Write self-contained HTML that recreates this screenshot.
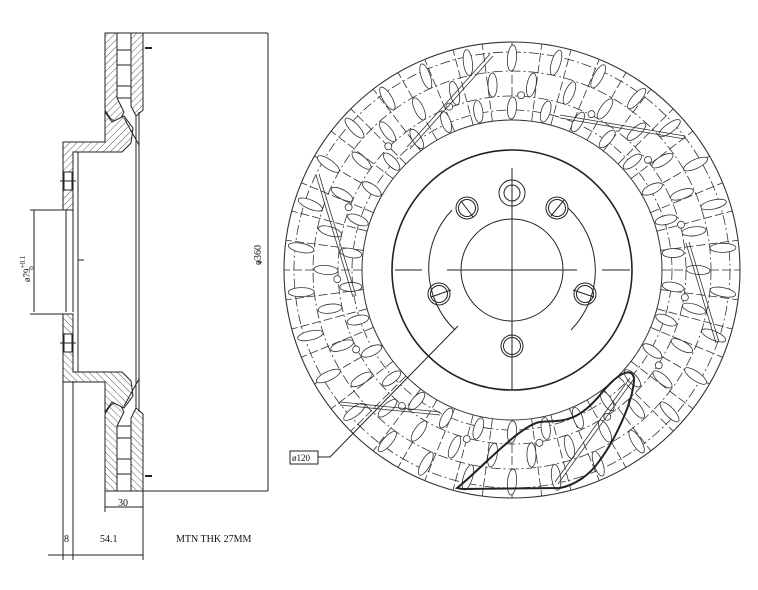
<!DOCTYPE html>
<html><head><meta charset="utf-8"><style>
html,body{margin:0;padding:0;background:#fff;width:758px;height:590px;overflow:hidden}
svg{display:block}
text{font-family:"Liberation Serif",serif;fill:#111}
</style></head><body>
<svg id="s" width="758" height="590" viewBox="0 0 758 590" xmlns="http://www.w3.org/2000/svg">
<defs>
<pattern id="h" width="5" height="5" patternUnits="userSpaceOnUse" patternTransform="rotate(45)">
<rect width="5" height="5" fill="#fff"/><line x1="0" y1="0" x2="0" y2="5" stroke="#333" stroke-width="0.8"/>
</pattern>
</defs>
<g stroke="#222" stroke-width="1" fill="none">
<g id="half">
<polygon fill="url(#h)" points="105,33 117,33 117,98 124,112 118,124 110,118 105,110"/>
<polygon fill="url(#h)" points="131,33 143,33 143,110 136,116 131,106"/>
<polygon fill="url(#h)" points="105,112 112,122 124,116 133,128 131,143 122,152 73,152 73,210 63,210 63,142 105,142"/>
<rect x="117" y="33" width="14" height="65" fill="#fff"/>
<line x1="117" y1="50" x2="131" y2="50"/><line x1="117" y1="65" x2="131" y2="65"/>
<line x1="117" y1="86" x2="131" y2="86"/>
<rect x="64" y="172" width="8" height="18" fill="#fff"/>
<line x1="60" y1="181" x2="76" y2="181"/>
<line x1="143" y1="33" x2="268" y2="33"/>
<line x1="145" y1="48" x2="152" y2="48" stroke-width="2"/>
<line x1="124" y1="118" x2="139" y2="145"/>
<line x1="30" y1="210" x2="63" y2="210"/>
</g>
<use href="#half" transform="translate(0,524) scale(1,-1)"/>
<line x1="78" y1="152" x2="78" y2="372"/>
<line x1="73" y1="210" x2="73" y2="312"/>
<line x1="66" y1="210" x2="66" y2="312"/>
<line x1="139" y1="112" x2="139" y2="412"/>
<line x1="136" y1="116" x2="136" y2="408"/>
<line x1="34" y1="210" x2="34" y2="312"/>
<line x1="268" y1="33" x2="268" y2="491"/>
<line x1="105" y1="491" x2="105" y2="512"/><line x1="143" y1="491" x2="143" y2="560"/>
<line x1="105" y1="507" x2="143" y2="507"/>
<line x1="63" y1="381" x2="63" y2="560"/><line x1="73" y1="381" x2="73" y2="560"/>
<line x1="48" y1="555" x2="143" y2="555"/>
<line x1="78" y1="260" x2="84" y2="260"/>
<line x1="258" y1="262" x2="262" y2="262"/>
</g>
<text x="118" y="506" font-size="10">30</text>
<text x="64" y="542" font-size="10">8</text>
<text x="100" y="542" font-size="10">54.1</text>
<text x="176" y="542" font-size="10">MTN THK 27MM</text>
<text transform="translate(261,265) rotate(-90)" font-size="10">ø360</text>
<text transform="translate(30,282) rotate(-90)" font-size="9">ø79<tspan dy="-5" font-size="7">+0.1</tspan><tspan dx="-14" dy="9" font-size="7">0</tspan></text>

<g fill="none" stroke="#333" stroke-width="0.8">
<circle cx="512" cy="270" r="228" stroke-width="1.1"/>
<circle cx="512" cy="270" r="150" stroke-width="1"/>
<circle cx="512" cy="270" r="218" stroke-dasharray="10,3,2,3"/>
<circle cx="512" cy="270" r="199" stroke-dasharray="10,3,2,3"/>
<circle cx="512" cy="270" r="174" stroke-dasharray="10,3,2,3"/>
<circle cx="512" cy="270" r="160" stroke-dasharray="10,3,2,3"/>
</g>
<g id="gen" fill="none" stroke="#333" stroke-width="0.8"></g>
<g fill="none" stroke="#222" stroke-width="1">
<circle cx="512" cy="270" r="120" stroke-width="1.6"/>
<circle cx="512" cy="270" r="51"/>
<path d="M452,210 A85,85 0 0 0 455,330" />
<path d="M571,330 A85,85 0 0 0 568,208"/>
<circle cx="512" cy="193" r="13"/><circle cx="512" cy="193" r="8"/>
<circle cx="439" cy="294" r="11"/><circle cx="439" cy="294" r="8.5"/>
<circle cx="585" cy="294" r="11"/><circle cx="585" cy="294" r="8.5"/>
<circle cx="467" cy="208" r="11"/><circle cx="467" cy="208" r="8.5"/>
<circle cx="557" cy="208" r="11"/><circle cx="557" cy="208" r="8.5"/>
<circle cx="512" cy="346" r="11"/><circle cx="512" cy="346" r="8.5"/>
<line x1="461" y1="201" x2="473" y2="217"/><line x1="551" y1="216" x2="564" y2="200"/>
<line x1="431" y1="297" x2="451" y2="290"/><line x1="573" y1="290" x2="594" y2="297"/>
<line x1="395" y1="270" x2="422" y2="270"/><line x1="447" y1="270" x2="577" y2="270"/><line x1="602" y1="270" x2="630" y2="270"/>
<line x1="512" y1="168" x2="512" y2="390"/>
<path d="M457,488 C480,470 520,425 540,422 C560,420 575,425 600,395 C620,370 632,368 634,378 C634,400 615,440 600,460 C590,475 575,485 560,488 L462,489 Z" stroke-width="2"/>
<rect x="290" y="451" width="28" height="13"/>
<polyline points="318,457 330,457 458,326"/>
</g>
<text x="292" y="461" font-size="9">ø120</text>
<g stroke="#333" stroke-width="0.8" fill="none">
<line x1="490" y1="54" x2="407" y2="147"/><line x1="493" y1="56" x2="410" y2="149"/>
<line x1="316" y1="175" x2="353" y2="297"/><line x1="319" y1="174" x2="356" y2="296"/>
<line x1="560" y1="115" x2="685" y2="136"/><line x1="560" y1="118" x2="685" y2="139"/>
<line x1="686" y1="243" x2="716" y2="343"/><line x1="689" y1="242" x2="719" y2="342"/>
<line x1="340" y1="402" x2="440" y2="412"/><line x1="340" y1="405" x2="440" y2="415"/>
<line x1="555" y1="482" x2="630" y2="378"/><line x1="558" y1="484" x2="633" y2="380"/>
</g>
</svg>
<script>
(function(){
var g=document.getElementById('gen'),cx=512,cy=270,h='';
for(var i=0;i<48;i++){var a=i*7.5*Math.PI/180,c=Math.cos(a),s=Math.sin(a);
h+='<line x1="'+(cx+150*c)+'" y1="'+(cy+150*s)+'" x2="'+(cx+228*c)+'" y2="'+(cy+228*s)+'" stroke-dasharray="9,3"/>';}
var rings=[[212,0,13,4.5],[186,6,12,4.5],[162,0,11,4.5]];
rings.forEach(function(r){for(var i=0;i<30;i++){var d=i*12+r[1],a=d*Math.PI/180;
var x=cx+r[0]*Math.sin(a),y=cy-r[0]*Math.cos(a);
h+='<ellipse cx="'+x+'" cy="'+y+'" rx="'+r[3]+'" ry="'+r[2]+'" transform="rotate('+(d+5)+' '+x+' '+y+')" fill="#fff"/>';}});
for(var i=0;i<15;i++){var a=(i*24+3)*Math.PI/180;var x=cx+175*Math.sin(a),y=cy-175*Math.cos(a);
h+='<circle cx="'+x+'" cy="'+y+'" r="3.5" fill="#fff"/>';}
g.innerHTML=h;
})();
</script>
</body></html>
